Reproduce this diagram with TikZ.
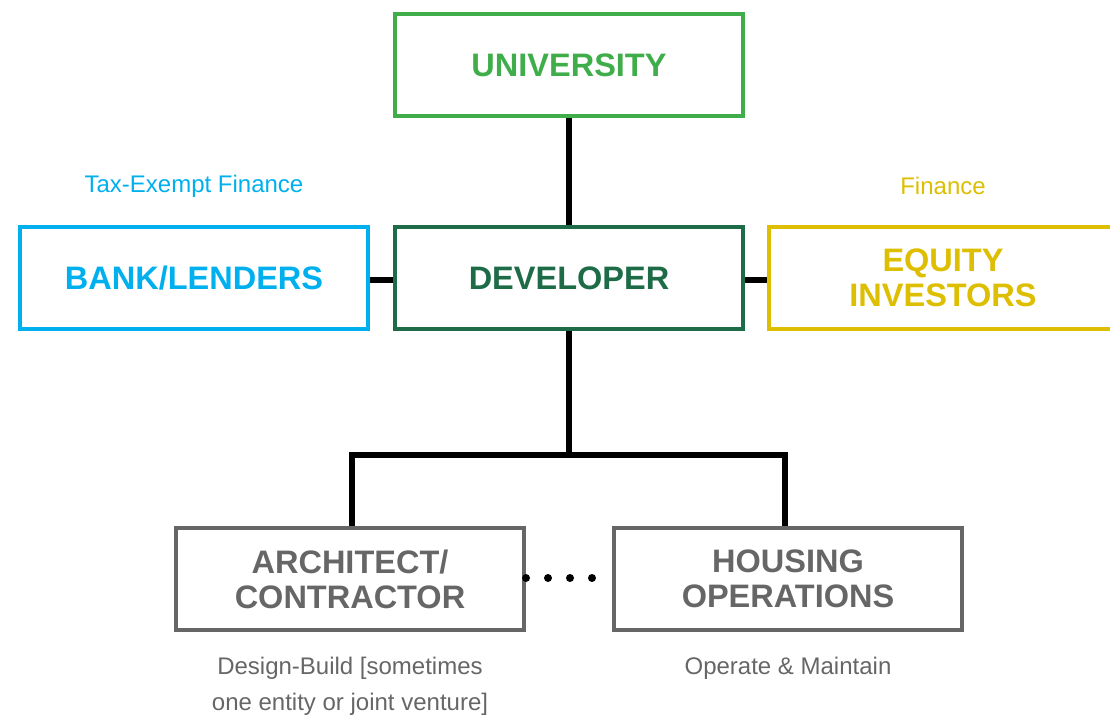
\documentclass[tikz,border=0pt]{standalone}
\usepackage{fontspec}
\setmainfont{Liberation Sans}
\definecolor{unigreen}{HTML}{3FAE4A}
\definecolor{devgreen}{HTML}{1E6B47}
\definecolor{bankblue}{HTML}{00B0EE}
\definecolor{equityyellow}{HTML}{DDBE00}
\definecolor{opsgray}{HTML}{666666}
\tikzset{
	box/.style={draw,line width=4pt,minimum width=348pt,minimum height=102pt,inner sep=0,align=center,font=\fontsize{32.5}{35}\selectfont\bfseries},
	link/.style={line width=6pt},
	note/.style={align=center,font=\fontsize{24}{36}\selectfont}
}
\begin{document}
\begin{tikzpicture}[x=1pt,y=-1pt]
	\useasboundingbox (0,0) rectangle (1110,715);
	\node[box,color=unigreen] (uni) at (569,65) {UNIVERSITY};
	\node[box,color=devgreen] (dev) at (569,278) {DEVELOPER};
	\node[box,color=bankblue] (bank) at (194,278) {BANK/LENDERS};
	\node[box,color=equityyellow] (equity) at (943,278) {EQUITY\\INVESTORS};
	\node[box,color=opsgray] (arch) at (350,579) {ARCHITECT/\\CONTRACTOR};
	\node[box,color=opsgray] (housing) at (788,579) {HOUSING\\OPERATIONS};
	\node[note,color=bankblue] (taxnote) at (194,186) {Tax-Exempt Finance};
	\node[note,color=equityyellow] (finnote) at (943,186) {Finance};
	\node[note,color=opsgray,anchor=north] (dbnote) at (350,654) {Design-Build [sometimes\\one entity or joint venture]};
	\node[note,color=opsgray,anchor=north] (omnote) at (788,654) {Operate \& Maintain};
	\coordinate (split) at (569,455);
	\draw[link] (uni) -- (dev);
	\draw[link] (bank.east |- 0,280) -- (dev.west |- 0,280);
	\draw[link] (dev.east |- 0,280) -- (equity.west |- 0,280);
	\draw[link] (dev) -- (split);
	\draw[link] (arch.north -| 352,0) |- (split) -| (housing.north -| 785,0);
	\draw[line width=8pt,line cap=round,dash pattern=on 0pt off 22pt] (arch.east |- 0,578) -- (housing.west |- 0,578);
\end{tikzpicture}
\end{document}
